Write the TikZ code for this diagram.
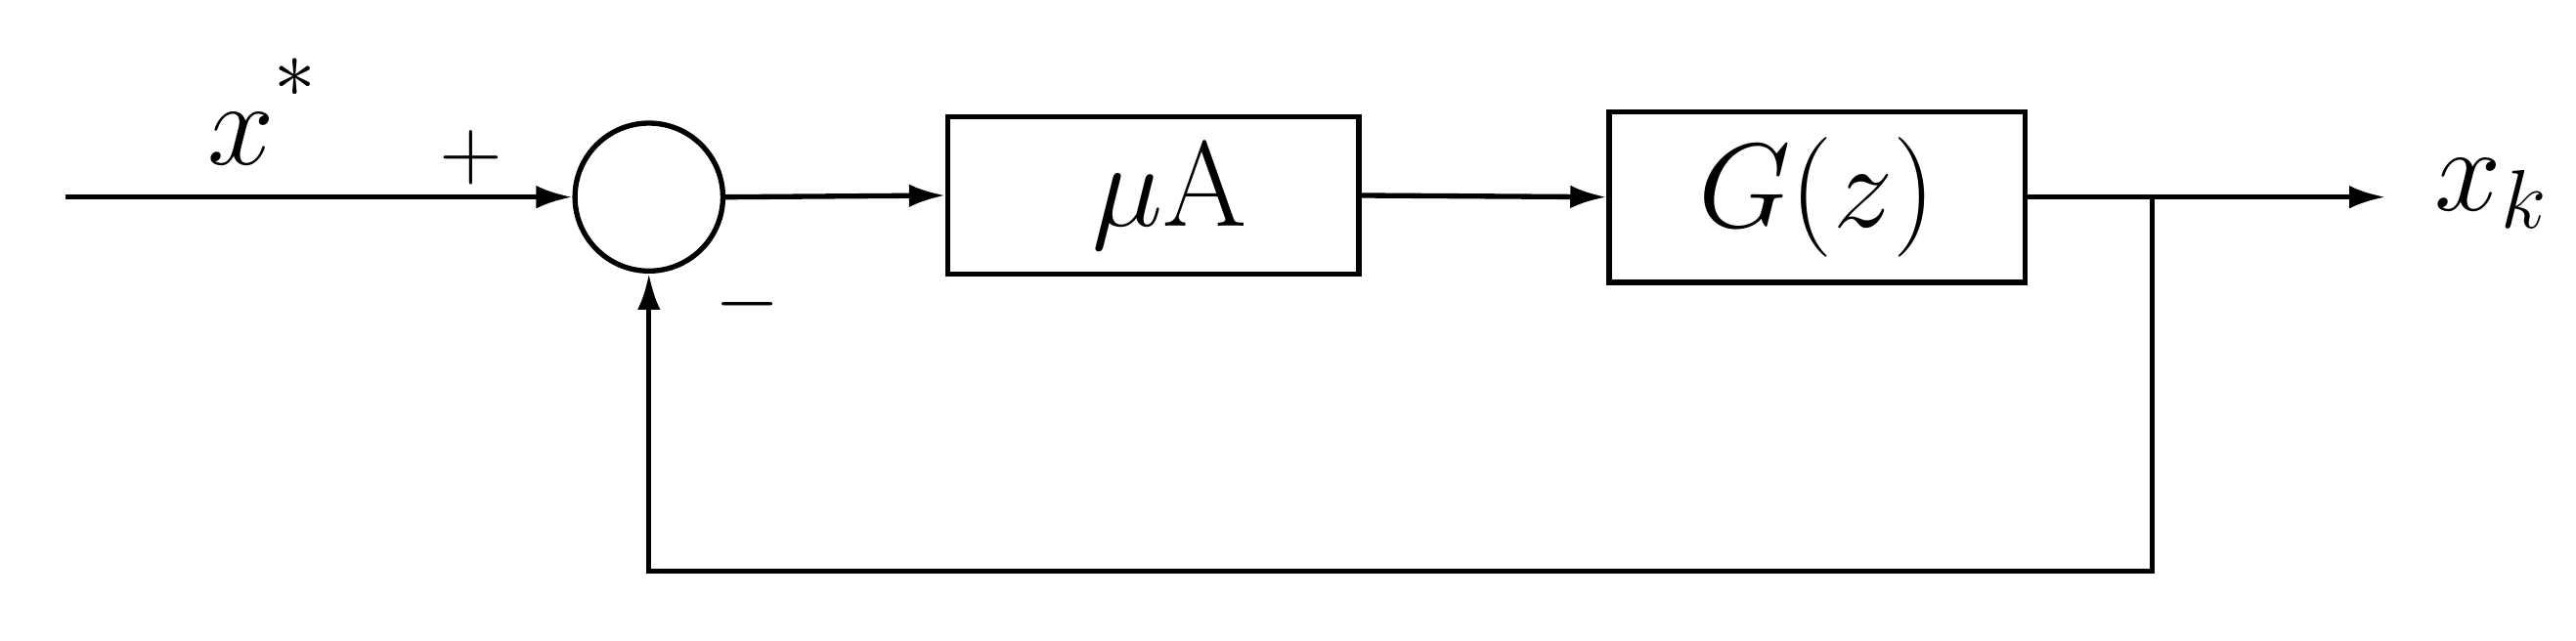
\documentclass[tikz,border=0pt]{standalone}
\usetikzlibrary{arrows.meta}
\begin{document}
\begin{tikzpicture}[x=0.01cm,y=-0.01cm,
  line width=0.9pt,
  arr/.style={-{Latex[length=0.22cm,width=0.14cm]}},
  blk/.style={draw,minimum width=2.5cm,minimum height=0.96cm,inner sep=0pt},
  lbl/.style={font=\fontsize{21}{25}\selectfont,inner sep=0pt},
  sgn/.style={font=\fontsize{15}{18}\selectfont,inner sep=0pt}]
\useasboundingbox (0,0) rectangle (1568,390);
\coordinate (in) at (40,120);
\node[draw,circle,minimum size=0.9cm,inner sep=0pt] (sum) at (395,120) {};
\node[blk] (A) at (702,119) {};
\node[lbl] (Atext) at (712,119) {$\mu$A};
\node[blk,minimum width=2.53cm,minimum height=1.04cm] (G) at (1106,120) {};
\node[lbl] (Gtext) at (G) {$G(z)$};
\coordinate (br) at (1310,120);
\coordinate (out) at (1452,120);
\coordinate (c1) at (1310,348);
\coordinate (c2) at (sum.south |- c1);
\draw[arr] (in) -- (sum.west);
\draw[arr] (sum.east) -- (A.west);
\draw[arr] (A.east) -- (G.west);
\draw[arr] (G.east) -- (out);
\draw[arr] (br) -- (c1) -- (c2) -- (sum.south);
\node[lbl] (xs) at (160,68) {$x^{\raisebox{0.15cm}{$\scriptstyle *$}}$};
\node[sgn] (plus) at (287,96) {$+$};
\node[sgn] (minus) at (455,185) {$-$};
\node[lbl] (xk) at (1517,118) {$x_k$};
\end{tikzpicture}
\end{document}
